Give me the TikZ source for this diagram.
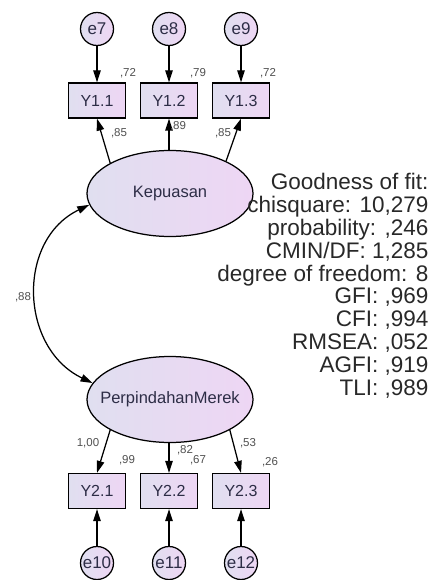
\documentclass[tikz,border=0pt]{standalone}
\usepackage{fontspec}
\setmainfont{Liberation Sans}
\usetikzlibrary{arrows.meta,shapes.geometric}

\definecolor{fillL}{RGB}{224,223,240}
\definecolor{fillR}{RGB}{238,214,244}
\definecolor{textC}{RGB}{45,45,70}
\definecolor{lblC}{RGB}{80,80,80}
\definecolor{statC}{RGB}{40,40,40}

\begin{document}
\begin{tikzpicture}[x=1pt,y=-1pt,line width=1.25pt,>={Triangle[length=12pt,width=7.5pt]},
obs node/.style={rectangle,draw,left color=fillL,right color=fillR,minimum width=57pt,minimum height=35pt,inner sep=0pt,font=\fontsize{16}{16}\selectfont,text=textC},
lat node/.style={ellipse,draw,left color=fillL,right color=fillR,minimum width=166pt,minimum height=86pt,inner sep=0pt},
lat text/.style={font=\fontsize{16.5}{16.5}\selectfont,text=textC,inner sep=0pt},
err node/.style={circle,draw,left color=fillL,right color=fillR,minimum size=33pt,inner sep=0pt,font=\fontsize{17}{17}\selectfont,text=textC},
lbl/.style={font=\fontsize{11.5}{11.5}\selectfont,text=lblC,inner sep=0pt},
stats/.style={align=right,inner sep=0pt,font=\fontsize{22.5}{22.8}\selectfont,text=statC}]
\useasboundingbox (0,0) rectangle (433,580);
% errors, indicators and latent variables
\node[err node] (e7) at (97,29) {e7};
\node[err node] (e8) at (169,29) {e8};
\node[err node] (e9) at (241,29) {e9};
\node[obs node] (y11) at (97,100.5) {Y1.1};
\node[obs node] (y12) at (169,100.5) {Y1.2};
\node[obs node] (y13) at (241,100.5) {Y1.3};
\node[lat node,label={[lat text]center:Kepuasan}] (kep) at (170,193.5) {};
\node[lat node,label={[lat text]center:PerpindahanMerek}] (pm) at (170,399.5) {};
\node[obs node] (y21) at (97,491) {Y2.1};
\node[obs node] (y22) at (169,491) {Y2.2};
\node[obs node] (y23) at (241,491) {Y2.3};
\node[err node] (e10) at (97,563) {e10};
\node[err node] (e11) at (169,563) {e11};
\node[err node] (e12) at (241,563) {e12};
% paths
\draw[->] (e7) -- (y11);
\draw[->] (e8) -- (y12);
\draw[->] (e9) -- (y13);
\draw[->] (kep.153) -- (y11.south);
\draw[->] (kep.north -| y12) -- (y12.south);
\draw[->] (kep.30) -- (y13.south);
\draw[<->] (kep.188) .. controls +(-73,35) and +(-73,-35) .. (pm.168);
\draw[->] (pm.207) -- (y21.north);
\draw[->] (pm.south -| y22) -- (y22.north);
\draw[->] (pm.333) -- (y23.north);
\draw[->] (e10) -- (y21);
\draw[->] (e11) -- (y22);
\draw[->] (e12) -- (y23);
% estimates
\node[lbl] (r11) at (128,73) {,72};
\node[lbl] (r12) at (198,73) {,79};
\node[lbl] (r13) at (268,73) {,72};
\node[lbl] (w11) at (119,133) {,85};
\node[lbl] (w12) at (178,126) {,89};
\node[lbl] (w13) at (223,133) {,85};
\node[lbl] (cov) at (23,297) {,88};
\node[lbl] (w21) at (88,443) {1,00};
\node[lbl] (r21) at (127,460) {,99};
\node[lbl] (w22) at (185,450) {,82};
\node[lbl] (r22) at (198,460) {,67};
\node[lbl] (w23) at (248,443) {,53};
\node[lbl] (r23) at (270,462) {,26};
% fit measures
\node[stats,anchor=north east] (fit) at (429,173) {Goodness of fit:\\chisquare: 10,279\\probability: ,246\\CMIN/DF: 1,285\\degree of freedom: 8\\GFI: ,969\\CFI: ,994\\RMSEA: ,052\\AGFI: ,919\\TLI: ,989};
\end{tikzpicture}
\end{document}
